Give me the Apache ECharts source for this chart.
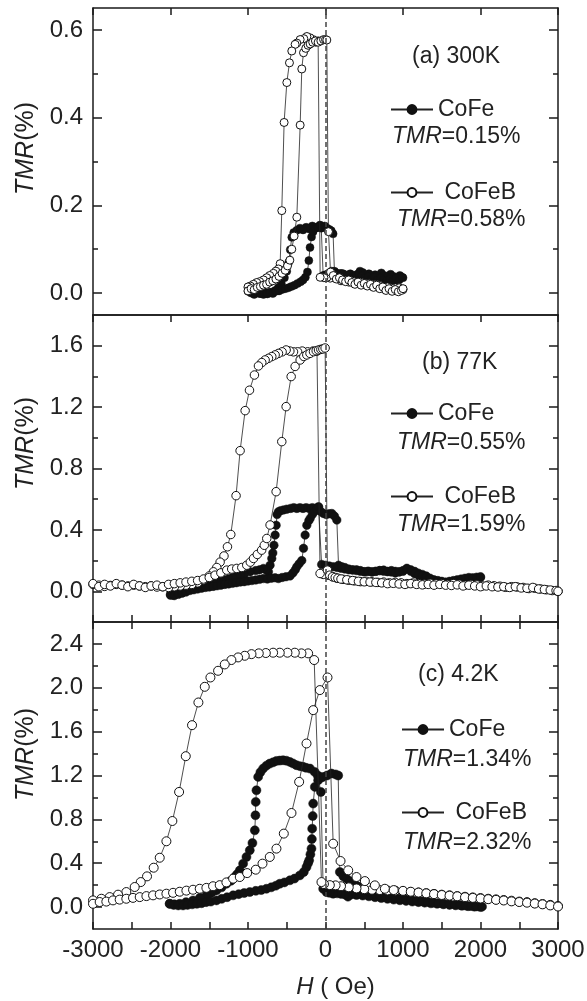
<!doctype html>
<html>
<head>
<meta charset="utf-8">
<title>TMR vs H</title>
<script src="https://cdn.jsdelivr.net/npm/echarts@6/dist/echarts.min.js"></script>
<style>
  html, body { margin: 0; padding: 0; background: #fff; }
  #chart { width: 587px; height: 1001px; }
</style>
</head>
<body>
<div id="chart"></div>
<script>
// ---- tick values ----
var aMajor = [0, 0.2, 0.4, 0.6];
var aMinor = [0.1, 0.3, 0.5];
var bMajor = [0, 0.4, 0.8, 1.2, 1.6];
var bMinor = [0.2, 0.6, 1.0, 1.4];
var cMajor = [0, 0.4, 0.8, 1.2, 1.6, 2.0, 2.4];
var cMinor = [0.2, 0.6, 1.0, 1.4, 1.8, 2.2];

// ---- annotation text ----
var panelLabels = ['(a) 300K', '(b) 77K', '(c) 4.2K'];
var tmrCoFe = ['0.15', '0.55', '1.34'];
var tmrCoFeB = ['0.58', '1.59', '2.32'];

// ---- (a) 300K : [H (Oe), TMR (%)] ----
var aCoFeBDown = [[1000,0.008],[950,0.012],[900,0.006],[850,0.011],[800,0.014],[750,0.01],[700,0.017],[650,0.02],[600,0.016],[550,0.022],[500,0.02],[450,0.025],[400,0.022],[350,0.027],[300,0.025],[250,0.03],[200,0.028],[150,0.033],[100,0.035],[60,0.034],[20,0.036],[-20,0.035],[-69,0.036],
  [-95,0.575],[-125,0.572],[-160,0.578],[-200,0.582],[-240,0.585],[-280,0.58],[-327,0.578],[-370,0.57],[-392,0.567],[-435,0.552],[-465,0.525],[-499,0.48],[-534,0.389],[-564,0.188],[-585,0.067],[-607,0.055],[-640,0.05],[-672,0.045],[-720,0.04],[-759,0.035],[-800,0.03],[-850,0.026],[-888,0.024],[-930,0.02],[-970,0.016],[-1000,0.014]];
var aCoFeBUp = [[-1000,0.005],[-960,0.01],[-920,0.008],[-880,0.013],[-840,0.015],[-800,0.018],[-760,0.02],[-720,0.025],[-680,0.028],[-640,0.032],[-600,0.038],[-560,0.045],[-520,0.052],[-490,0.062],[-460,0.075],[-435,0.1],[-405,0.13],[-370,0.173],[-327,0.383],[-306,0.511],[-284,0.548],[-255,0.558],[-225,0.565],[-198,0.568],[-165,0.572],[-130,0.575],[-95,0.572],[-60,0.575],[-25,0.578],[0,0.578],[17,0.577],
  [38,0.14],[65,0.048],[100,0.04],[140,0.032],[180,0.035],[220,0.03],[260,0.026],[300,0.03],[340,0.024],[380,0.02],[420,0.025],[460,0.018],[500,0.022],[540,0.016],[580,0.02],[620,0.013],[660,0.018],[700,0.01],[740,0.014],[780,0.006],[820,0.01],[860,0.004],[900,0.008],[940,0.003],[980,0.006],[1000,0.01]];
var aCoFeDown = [[1000,0.035],[960,0.04],[920,0.03],[880,0.038],[840,0.043],[800,0.036],[760,0.04],[720,0.046],[680,0.038],[640,0.042],[600,0.035],[560,0.044],[520,0.04],[480,0.047],[445,0.05],[400,0.042],[360,0.038],[320,0.044],[280,0.035],[240,0.04],[200,0.045],[160,0.04],[120,0.048],[80,0.05],[40,0.045],[0,0.042],[-30,0.04],
  [-55,0.148],[-90,0.152],[-130,0.148],[-170,0.153],[-210,0.146],[-250,0.15],[-290,0.144],[-330,0.148],[-370,0.143],[-410,0.138],[-435,0.127],[-455,0.099],[-475,0.07],[-500,0.05],[-530,0.035],[-570,0.022],[-610,0.012],[-650,0.006],[-700,0.002],[-750,-0.002],[-800,0.002],[-850,-0.001],[-900,0.004],[-950,0.008],[-1000,0.012]];
var aCoFeUp = [[-1000,0.004],[-960,0.0],[-920,-0.003],[-880,0.002],[-840,-0.001],[-800,-0.003],[-760,0.0],[-720,0.002],[-680,-0.001],[-640,0.004],[-600,0.005],[-560,0.008],[-520,0.01],[-480,0.012],[-440,0.015],[-400,0.018],[-360,0.022],[-320,0.026],[-290,0.03],[-260,0.036],[-233,0.048],[-215,0.074],[-200,0.104],[-180,0.128],[-160,0.14],[-130,0.148],[-100,0.15],[-70,0.155],[-40,0.15],[-10,0.153],[20,0.148],[50,0.145],[75,0.142],[98,0.135],
  [115,0.05],[150,0.045],[190,0.04],[230,0.044],[270,0.038],[310,0.042],[350,0.036],[390,0.04],[430,0.045],[470,0.04],[510,0.035],[550,0.038],[590,0.032],[630,0.036],[670,0.03],[710,0.034],[750,0.03],[790,0.028],[830,0.032],[870,0.028],[910,0.034],[950,0.03],[990,0.036]];

// ---- (b) 77K ----
var bCoFeBDown = [[3000,0.0],[2925,0.005],[2850,0.01],[2775,0.015],[2700,0.02],[2625,0.018],[2550,0.025],[2475,0.028],[2400,0.03],[2325,0.026],[2250,0.033],[2175,0.036],[2100,0.04],[2025,0.035],[1950,0.042],[1875,0.045],[1800,0.04],[1725,0.046],[1650,0.05],[1575,0.045],[1500,0.05],[1425,0.048],[1350,0.052],[1275,0.047],[1200,0.05],[1125,0.054],[1050,0.05],[975,0.055],[900,0.058],[825,0.055],[750,0.06],[675,0.058],[600,0.062],[525,0.065],[450,0.063],[375,0.068],[300,0.072],[225,0.078],[150,0.085],[90,0.095],[30,0.105],[-30,0.11],[-70,0.116],
  [-110,1.565],[-160,1.565],[-230,1.56],[-300,1.565],[-360,1.56],[-413,1.56],[-460,1.565],[-508,1.572],[-560,1.56],[-607,1.55],[-650,1.54],[-693,1.529],[-736,1.518],[-779,1.507],[-822,1.49],[-865,1.468],[-917,1.409],[-981,1.31],[-1037,1.177],[-1102,0.916],[-1154,0.623],[-1222,0.37],[-1265,0.29],[-1310,0.23],[-1360,0.19],[-1403,0.155],[-1446,0.127],[-1500,0.1],[-1576,0.073],[-1650,0.055],[-1725,0.045],[-1800,0.04],[-1875,0.035],[-1950,0.03],[-2025,0.025],[-2100,0.03],[-2175,0.028],[-2250,0.035],[-2325,0.03],[-2400,0.035],[-2475,0.04],[-2550,0.035],[-2625,0.04],[-2700,0.045],[-2775,0.038],[-2850,0.032],[-2925,0.04],[-3000,0.045]];
var bCoFeBUp = [[-3000,0.05],[-2925,0.03],[-2850,0.045],[-2775,0.035],[-2700,0.05],[-2625,0.04],[-2550,0.03],[-2475,0.045],[-2400,0.035],[-2325,0.025],[-2250,0.035],[-2175,0.04],[-2100,0.03],[-2025,0.045],[-1950,0.05],[-1875,0.055],[-1800,0.06],[-1725,0.065],[-1650,0.07],[-1575,0.08],[-1500,0.09],[-1425,0.105],[-1350,0.12],[-1274,0.138],[-1210,0.145],[-1145,0.149],[-1080,0.155],[-1016,0.17],[-970,0.19],[-929,0.214],[-880,0.24],[-824,0.268],[-790,0.3],[-758,0.344],[-715,0.432],[-637,0.649],[-564,0.975],[-508,1.203],[-443,1.399],[-392,1.465],[-327,1.507],[-280,1.53],[-241,1.54],[-200,1.55],[-155,1.561],[-120,1.567],[-90,1.572],[-60,1.576],[-34,1.579],[-5,1.585],
  [25,0.138],[55,0.105],[90,0.095],[125,0.09],[160,0.085],[200,0.08],[275,0.075],[350,0.07],[425,0.065],[500,0.062],[575,0.06],[650,0.058],[725,0.055],[800,0.05],[875,0.052],[950,0.048],[1025,0.045],[1100,0.05],[1175,0.045],[1250,0.042],[1325,0.045],[1400,0.04],[1475,0.045],[1550,0.04],[1625,0.038],[1700,0.042],[1775,0.035],[1850,0.04],[1925,0.035],[2000,0.03],[2075,0.035],[2150,0.03],[2225,0.028],[2300,0.03],[2375,0.025],[2450,0.03],[2525,0.022],[2600,0.02],[2675,0.025],[2750,0.015],[2825,0.012],[2900,0.008],[2975,0.005],[3000,0.0]];
var bCoFeDown = [[2000,0.09],[1950,0.085],[1900,0.08],[1850,0.083],[1800,0.075],[1750,0.07],[1700,0.065],[1650,0.06],[1600,0.058],[1550,0.055],[1500,0.06],[1450,0.065],[1400,0.07],[1350,0.08],[1300,0.1],[1250,0.11],[1200,0.118],[1150,0.13],[1100,0.14],[1050,0.15],[1000,0.135],[950,0.128],[900,0.13],[850,0.135],[800,0.13],[750,0.138],[700,0.135],[650,0.13],[600,0.128],[550,0.13],[500,0.127],[450,0.135],[400,0.14],[350,0.138],[300,0.14],[250,0.145],[200,0.15],[150,0.155],[100,0.16],[50,0.165],[0,0.17],[-50,0.175],
  [-90,0.55],[-130,0.54],[-170,0.545],[-210,0.54],[-250,0.545],[-290,0.54],[-330,0.545],[-370,0.54],[-410,0.545],[-450,0.54],[-500,0.535],[-542,0.53],[-580,0.525],[-607,0.518],[-625,0.5],[-637,0.43],[-650,0.366],[-665,0.3],[-680,0.25],[-693,0.214],[-715,0.17],[-736,0.127],[-770,0.14],[-801,0.149],[-850,0.14],[-900,0.135],[-973,0.127],[-1050,0.11],[-1100,0.105],[-1145,0.1],[-1200,0.09],[-1250,0.08],[-1300,0.075],[-1350,0.068],[-1403,0.062],[-1450,0.055],[-1500,0.05],[-1550,0.045],[-1600,0.035],[-1650,0.03],[-1700,0.025],[-1748,0.018],[-1800,0.01],[-1850,0.0],[-1900,-0.01],[-1963,-0.025],[-2000,-0.02]];
var bCoFeUp = [[-2000,-0.025],[-1950,-0.028],[-1900,-0.02],[-1850,-0.012],[-1800,-0.005],[-1750,0.005],[-1700,0.01],[-1650,0.015],[-1600,0.02],[-1550,0.025],[-1500,0.028],[-1450,0.032],[-1400,0.036],[-1350,0.04],[-1300,0.045],[-1250,0.048],[-1200,0.052],[-1150,0.056],[-1100,0.06],[-1050,0.063],[-1000,0.067],[-950,0.07],[-900,0.074],[-850,0.078],[-801,0.083],[-750,0.08],[-700,0.085],[-650,0.088],[-607,0.083],[-560,0.09],[-510,0.095],[-457,0.1],[-420,0.12],[-390,0.14],[-370,0.16],[-340,0.18],[-306,0.2],[-284,0.28],[-263,0.366],[-241,0.43],[-215,0.46],[-198,0.475],[-170,0.5],[-140,0.52],[-110,0.535],[-90,0.55],[-60,0.52],[-26,0.507],[10,0.5],[45,0.505],[82,0.507],[115,0.49],[146,0.464],
  [168,0.17],[210,0.16],[250,0.155],[300,0.145],[350,0.14],[400,0.135],[450,0.13],[500,0.128],[550,0.13],[600,0.125],[650,0.13],[700,0.135],[750,0.13],[800,0.128],[850,0.125],[900,0.12],[950,0.125],[1000,0.13],[1050,0.145],[1100,0.13],[1150,0.115],[1200,0.105],[1250,0.1],[1300,0.095],[1350,0.085],[1400,0.075],[1450,0.07],[1500,0.065],[1550,0.06],[1600,0.065],[1650,0.07],[1700,0.075],[1750,0.08],[1800,0.085],[1850,0.09],[1900,0.088],[1950,0.092],[2000,0.095]];

// ---- (c) 4.2K ----
var cCoFeBDown = [[3000,0.01],[2900,0.02],[2800,0.028],[2700,0.035],[2600,0.045],[2500,0.05],[2400,0.058],[2300,0.064],[2200,0.07],[2100,0.076],[2000,0.082],[1900,0.088],[1800,0.094],[1700,0.1],[1600,0.107],[1500,0.113],[1400,0.12],[1300,0.127],[1200,0.133],[1100,0.138],[1000,0.145],[900,0.15],[800,0.152],[700,0.155],[600,0.158],[500,0.163],[400,0.17],[300,0.18],[200,0.19],[130,0.198],[56,0.2],[-20,0.21],[-52,0.228],
  [-146,2.253],[-224,2.314],[-310,2.314],[-396,2.32],[-491,2.32],[-590,2.32],[-676,2.32],[-770,2.317],[-861,2.314],[-955,2.307],[-1042,2.292],[-1128,2.277],[-1214,2.253],[-1300,2.213],[-1386,2.155],[-1485,2.094],[-1558,2.009],[-1640,1.866],[-1722,1.659],[-1803,1.376],[-1889,1.05],[-1976,0.785],[-2053,0.6],[-2139,0.45],[-2217,0.359],[-2303,0.28],[-2384,0.228],[-2462,0.183],[-2570,0.137],[-2677,0.113],[-2785,0.091],[-2892,0.076],[-3000,0.061]];
var cCoFeBUp = [[-3000,0.03],[-2914,0.046],[-2828,0.05],[-2742,0.061],[-2656,0.068],[-2570,0.076],[-2484,0.084],[-2397,0.091],[-2311,0.1],[-2225,0.107],[-2139,0.115],[-2053,0.122],[-1967,0.13],[-1881,0.14],[-1795,0.15],[-1709,0.158],[-1623,0.167],[-1537,0.175],[-1451,0.19],[-1365,0.2],[-1279,0.225],[-1192,0.259],[-1106,0.274],[-1011,0.31],[-900,0.341],[-813,0.396],[-719,0.457],[-633,0.533],[-538,0.67],[-439,0.858],[-340,1.142],[-245,1.492],[-159,1.796],[-73,1.979],[26,2.094],
  [99,0.578],[194,0.42],[293,0.335],[400,0.274],[508,0.237],[637,0.198],[766,0.167],[880,0.155],[1000,0.148],[1100,0.14],[1200,0.132],[1300,0.125],[1400,0.118],[1500,0.11],[1600,0.104],[1700,0.098],[1800,0.09],[1900,0.084],[2000,0.078],[2100,0.072],[2200,0.066],[2300,0.06],[2400,0.052],[2500,0.046],[2600,0.04],[2700,0.032],[2800,0.025],[2900,0.015],[3000,0.005]];
var cCoFeDown = [[2000,0.0],[1920,0.004],[1840,0.008],[1760,0.012],[1680,0.016],[1600,0.02],[1520,0.025],[1440,0.03],[1360,0.034],[1280,0.04],[1200,0.045],[1120,0.05],[1040,0.056],[960,0.062],[880,0.068],[800,0.075],[720,0.082],[640,0.09],[560,0.098],[480,0.105],[400,0.11],[330,0.115],[290,0.095],[250,0.115],[200,0.12],[150,0.125],[99,0.122],[50,0.13],[13,0.137],[-30,0.167],
  [-60,1.05],[-100,1.2],[-140,1.233],[-200,1.263],[-250,1.27],[-288,1.279],[-330,1.285],[-374,1.294],[-420,1.31],[-460,1.324],[-505,1.335],[-547,1.339],[-590,1.336],[-633,1.333],[-676,1.32],[-719,1.309],[-762,1.29],[-805,1.263],[-840,1.23],[-869,1.187],[-891,1.065],[-900,0.959],[-904,0.837],[-912,0.7],[-943,0.584],[-977,0.518],[-1020,0.457],[-1063,0.396],[-1106,0.335],[-1140,0.3],[-1171,0.274],[-1220,0.24],[-1278,0.213],[-1340,0.18],[-1407,0.152],[-1470,0.13],[-1537,0.107],[-1620,0.085],[-1709,0.061],[-1800,0.045],[-1881,0.03],[-1950,0.025],[-2010,0.03]];
var cCoFeUp = [[-2010,0.03],[-1960,0.02],[-1900,0.015],[-1838,0.015],[-1780,0.02],[-1720,0.025],[-1660,0.03],[-1600,0.035],[-1540,0.045],[-1480,0.05],[-1407,0.061],[-1340,0.075],[-1270,0.09],[-1192,0.107],[-1120,0.118],[-1050,0.128],[-977,0.137],[-900,0.148],[-830,0.155],[-762,0.167],[-700,0.18],[-640,0.195],[-590,0.213],[-530,0.225],[-460,0.244],[-400,0.26],[-331,0.289],[-280,0.32],[-245,0.365],[-225,0.4],[-211,0.426],[-195,0.48],[-181,0.533],[-176,0.62],[-172,0.715],[-165,0.83],[-159,0.944],[-138,1.096],[-95,1.157],[-60,1.18],[-30,1.187],[20,1.2],[77,1.218],[130,1.21],[164,1.2],
  [185,0.32],[230,0.28],[271,0.259],[315,0.235],[357,0.213],[400,0.195],[443,0.183],[500,0.16],[572,0.137],[640,0.12],[702,0.107],[770,0.098],[831,0.091],[900,0.085],[970,0.078],[1040,0.07],[1110,0.065],[1180,0.058],[1250,0.052],[1320,0.048],[1390,0.04],[1460,0.036],[1530,0.03],[1600,0.026],[1670,0.022],[1740,0.018],[1810,0.014],[1880,0.01],[1950,0.006],[2020,0.004]];

// ---- layout ----
var INK = '#1a1a1a';
var FONT = '"Liberation Sans", Arial, sans-serif';
var panels = [
  { top: 8,   min: -0.05, max: 0.65, major: aMajor, minor: aMinor, size: 8,
    data: [aCoFeDown, aCoFeUp, aCoFeBDown, aCoFeBUp],
    topMinor: false, bottomTick: false, bottomMinor: false, namePad: 26,
    labelPos: [412, 57], legX: 390, legY: [110, 193], tmrPos: [[392, 137], [397, 220]] },
  { top: 315, min: -0.2, max: 1.8, major: bMajor, minor: bMinor, size: 8.5,
    data: [bCoFeDown, bCoFeUp, bCoFeBDown, bCoFeBUp],
    topMinor: false, bottomTick: true, bottomMinor: true, namePad: 50,
    labelPos: [422, 363], legX: 390, legY: [414, 497], tmrPos: [[397, 443], [397, 525]] },
  { top: 622, min: -0.2, max: 2.6, major: cMajor, minor: cMinor, size: 9,
    data: [cCoFeDown, cCoFeUp, cCoFeBDown, cCoFeBUp],
    topMinor: true, bottomTick: true, bottomMinor: true, namePad: 42,
    labelPos: [418, 675], legX: 401, legY: [730, 813], tmrPos: [[403, 760], [403, 843]] }
];

var tickLine = { color: INK, width: 1.5 };
var textBase = { color: '#222', fontFamily: FONT, fontSize: 23 };
var tickText = { color: '#222', fontFamily: FONT, fontSize: 24 };

var grid = [], xAxis = [], yAxis = [], series = [], legend = [], title = [];

panels.forEach(function (p, i) {
  grid.push({ left: 93, right: 29, top: p.top, height: 307, outerBoundsMode: 'none' });

  function xAx(pos, tick, minor, label) {
    var ax = {
      type: 'value', gridIndex: i, position: pos, min: -3000, max: 3000, interval: 1000,
      axisLine: { show: true, onZero: false, lineStyle: { color: INK, width: 1.5 } },
      axisTick: { show: tick, inside: true, length: 7, lineStyle: tickLine },
      minorTick: { show: minor, splitNumber: 2, length: 7, lineStyle: tickLine },
      axisLabel: Object.assign({ show: label, margin: 9,
        formatter: function (v) { return String(v); } }, tickText),
      splitLine: { show: false }, minorSplitLine: { show: false }
    };
    if (label) {
      ax.name = '{i|H} ( Oe)';
      ax.nameLocation = 'middle';
      ax.nameGap = 46;
      ax.nameTextStyle = { fontSize: 24, color: '#222', fontFamily: FONT, padding: [0, 0, 0, 20],
        rich: { i: { fontStyle: 'italic', fontSize: 24, color: '#222', fontFamily: FONT } } };
    }
    return ax;
  }
  xAxis.push(xAx('bottom', p.bottomTick, p.bottomMinor, i === 2));
  xAxis.push(xAx('top', true, p.topMinor, false));

  function yAx(pos, ticks, len, line, label) {
    var ax = {
      type: 'value', gridIndex: i, position: pos, min: p.min, max: p.max,
      axisLine: { show: line, onZero: false, lineStyle: { color: INK, width: 1.5 } },
      axisTick: { show: true, inside: true, length: len, customValues: ticks, lineStyle: tickLine },
      axisLabel: Object.assign({ show: label, customValues: ticks, margin: 10,
        formatter: function (v) { return v.toFixed(1); } }, tickText),
      splitLine: { show: false }
    };
    if (label) {
      ax.name = '{i|TMR}(%)';
      ax.nameLocation = 'middle';
      ax.nameGap = 52;
      ax.nameTextStyle = { fontSize: 25, color: '#222', fontFamily: FONT, padding: [0, 0, 0, p.namePad],
        rich: { i: { fontStyle: 'italic', fontSize: 25, color: '#222', fontFamily: FONT } } };
    }
    return ax;
  }
  var yBase = yAxis.length;
  yAxis.push(yAx('left', p.major, 9, true, true));
  yAxis.push(yAx('left', p.minor, 5, false, false));
  yAxis.push(yAx('right', p.major, 9, true, false));
  yAxis.push(yAx('right', p.minor, 5, false, false));

  p.data.forEach(function (d, k) {
    var open = k >= 2;
    var s = {
      type: 'line', name: open ? 'CoFeB' : 'CoFe',
      xAxisIndex: i * 2, yAxisIndex: yBase, data: d,
      symbol: 'circle', symbolSize: p.size, showAllSymbol: true,
      lineStyle: { color: '#222', width: 0.8 },
      itemStyle: open ? { color: '#fff', borderColor: '#111', borderWidth: 1 } : { color: '#111', borderColor: '#111', borderWidth: 0.5 },
      z: open ? 3 : 2
    };
    if (k === 0) {
      s.markLine = { silent: true, symbol: 'none', label: { show: false },
        lineStyle: { color: '#444', type: [5, 3], width: 1.5 }, data: [{ xAxis: 0 }] };
    }
    series.push(s);
  });

  ['CoFe', 'CoFeB'].forEach(function (nm, k) {
    legend.push({
      selectedMode: false, data: [nm], left: p.legX, top: p.legY[k] - 12, padding: 0,
      itemWidth: 42, itemHeight: 11, itemGap: 0,
      formatter: function (n) { return n === 'CoFeB' ? ' CoFeB' : n; },
      textStyle: textBase
    });
  });

  title.push({ text: panelLabels[i], left: p.labelPos[0], top: p.labelPos[1] - 13, padding: 0,
    textStyle: Object.assign({ fontWeight: 'normal', lineHeight: 26 }, textBase) });
  [tmrCoFe[i], tmrCoFeB[i]].forEach(function (v, k) {
    title.push({ text: '{i|TMR}=' + v + '%', left: p.tmrPos[k][0], top: p.tmrPos[k][1] - 13, padding: 0,
      textStyle: Object.assign({ fontWeight: 'normal', lineHeight: 26,
        rich: { i: { fontStyle: 'italic', fontSize: 23, color: '#222', fontFamily: FONT, lineHeight: 26 } } }, textBase) });
  });
});

var chart = echarts.init(document.getElementById('chart'));
chart.setOption({
  animation: false,
  backgroundColor: '#fff',
  grid: grid, xAxis: xAxis, yAxis: yAxis, series: series, legend: legend, title: title
});
</script>
</body>
</html>
